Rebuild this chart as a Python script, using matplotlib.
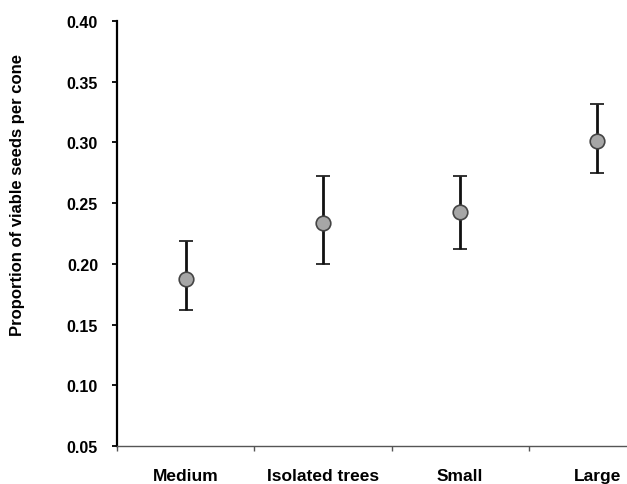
import matplotlib
matplotlib.use("Agg")
import matplotlib.pyplot as plt
import numpy as np

categories = ["Medium", "Isolated trees", "Small", "Large"]
means = [0.1875, 0.2336, 0.2427, 0.3012]
upper = [0.2188, 0.2723, 0.2723, 0.3316]
lower = [0.1620, 0.2000, 0.2122, 0.2748]
yticks = [0.05, 0.10, 0.15, 0.20, 0.25, 0.30, 0.35, 0.40]

plt.rcParams['font.family'] = ['Liberation Sans', 'DejaVu Sans']
plt.rcParams['font.weight'] = 'bold'

fig = plt.figure(figsize=(6.27, 4.85), dpi=100)
W, H = 627, 485
left, right = 117, 666
top, bottom = 22, 447
ax = fig.add_axes([left / W, 1 - bottom / H, (right - left) / W, (bottom - top) / H])

x = np.arange(len(categories)) + 0.5
m = np.array(means)
err = np.vstack([m - np.array(lower), np.array(upper) - m])
ax.errorbar(x, m, yerr=err, fmt='o', color='black', ecolor='#111111', elinewidth=2.0,
            capsize=5, capthick=2.0, markersize=10.5, markerfacecolor='#a6a6a6',
            markeredgecolor='#444444', markeredgewidth=1.2, zorder=3)

ax.set_xlim(0, len(categories))
ax.set_ylim(0.05, 0.40)
ax.set_yticks(yticks)
ax.set_yticklabels([f"{v:.2f}" for v in yticks], fontsize=11.5, fontweight='bold')
ax.set_xticks(np.arange(len(categories)))
ax.set_xticklabels([])
ax.set_xticks(x, minor=True)
ax.set_xticklabels(categories, minor=True, fontsize=12.5, fontweight='bold')
ax.tick_params(axis='x', which='minor', length=0, pad=15.5)
ax.tick_params(axis='x', which='major', length=3.5, width=1, color='#555555', direction='out')
ax.tick_params(axis='y', length=3.6, width=1.3, direction='out', pad=10)

for s in ['top', 'right']:
    ax.spines[s].set_visible(False)
ax.spines['left'].set_linewidth(1.6)
ax.spines['left'].set_color('black')
ax.spines['bottom'].set_linewidth(1.0)
ax.spines['bottom'].set_color('#555555')

fig.text(18 / W, 1 - 195.5 / H, "Proportion of viable seeds per cone", rotation=90,
         ha='center', va='center', fontsize=12, fontweight='bold')

fig.savefig("out.png", dpi=100)
